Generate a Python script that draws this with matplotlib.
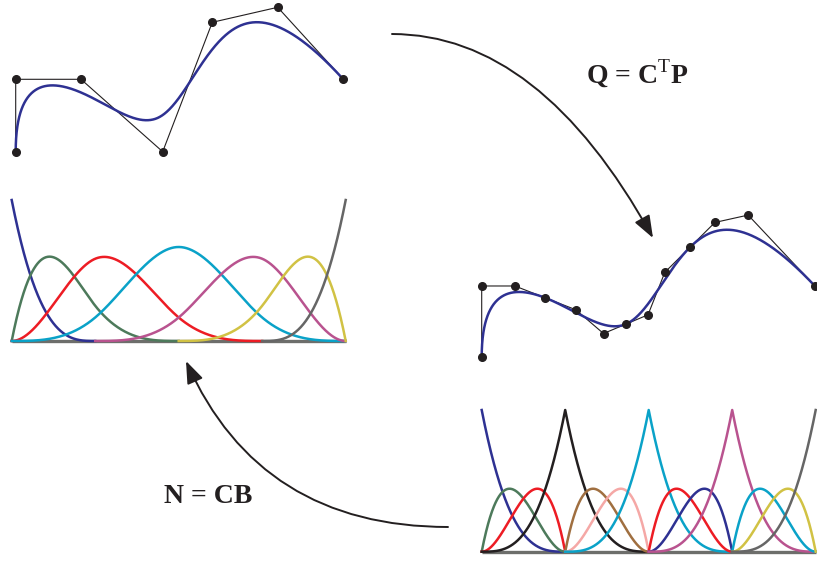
import numpy as np
import matplotlib
matplotlib.use("Agg")
import matplotlib.pyplot as plt
from matplotlib.patches import FancyArrowPatch

plt.rcParams['mathtext.fontset'] = 'custom'
plt.rcParams['mathtext.rm'] = 'Liberation Serif'
plt.rcParams['mathtext.bf'] = 'Liberation Serif:bold'

# ---------------- data ----------------
degree = 3
knots = [0, 0, 0, 0, 0.25, 0.5, 0.75, 1, 1, 1, 1]
ctrl_x = [0.0, 0.0, 65.3, 147.0, 196.6, 262.0, 327.6]
ctrl_y = [0.0, 72.4, 72.4, 0.0, 129.4, 144.4, 72.4]
insert_knots = [0.25, 0.25, 0.5, 0.5, 0.75, 0.75]

basis_colors = ['#2e3192', '#4d7a5b', '#ed1c24', '#0aa2c8', '#b9538f', '#d1c244', '#666666']
bezier_colors = ['#2e3192', '#4d7a5b', '#ed1c24', '#231f20', '#a06f40', '#f5a8a6', '#0aa2c8',
                 '#ed1c24', '#2e3192', '#b9538f', '#0aa2c8', '#d1c244', '#666666']
label_top = r'Q = $\mathbf{C}^{\mathrm{T}}\mathbf{P}$'
label_bottom = 'N = CB'

curve_color = '#2e3192'
ink = '#231f20'
base_gray = '#6d6e6b'

# ---------------- B-spline helpers ----------------
def basis(kn, p, u):
    kn = np.asarray(kn, float)
    n = len(kn) - p - 1
    m = len(kn) - 1
    N = np.zeros((m, len(u)))
    last = max(i for i in range(m) if kn[i] < kn[i + 1])
    for i in range(m):
        if kn[i] < kn[i + 1]:
            N[i] = (kn[i] <= u) & (u < kn[i + 1])
    N[last, u >= kn[-1]] = 1.0
    for d in range(1, p + 1):
        Nn = np.zeros((m - d, len(u)))
        for i in range(m - d):
            a = 0.0
            if kn[i + d] > kn[i]:
                a = (u - kn[i]) / (kn[i + d] - kn[i]) * N[i]
            b = 0.0
            if kn[i + d + 1] > kn[i + 1]:
                b = (kn[i + d + 1] - u) / (kn[i + d + 1] - kn[i + 1]) * N[i + 1]
            Nn[i] = a + b
        N = Nn
    return N[:n]

def insert(kn, P, u, p):
    kn = list(kn)
    k = max(i for i in range(len(kn) - 1) if kn[i] <= u < kn[i + 1])
    Q = []
    for i in range(len(P) + 1):
        if i <= k - p:
            Q.append(P[i])
        elif i >= k + 1:
            Q.append(P[i - 1])
        else:
            a = (u - kn[i]) / (kn[i + p] - kn[i])
            Q.append((1 - a) * P[i - 1] + a * P[i])
    kn.insert(k + 1, u)
    return kn, Q

P = [np.array([x, y]) for x, y in zip(ctrl_x, ctrl_y)]
kn2, Q = list(knots), list(P)
for uu in insert_knots:
    kn2, Q = insert(kn2, Q, uu, degree)
Q = np.array(Q)
Parr = np.array(P)

u = np.linspace(0, 1, 1201)
N1 = basis(knots, degree, u)
N2 = basis(kn2, degree, u)
curve = N1.T @ Parr

# ---------------- figure ----------------
W, H = 817, 561
fig = plt.figure(figsize=(W / 100, H / 100), dpi=100)

def panel(l, t, w, h, ox, oy, sx, sy):
    ax = fig.add_axes([l / W, 1 - (t + h) / H, w / W, h / H])
    ax.set_xlim((l - ox) / sx, (l + w - ox) / sx)
    ax.set_ylim((oy - (t + h)) / sy, (oy - t) / sy)
    ax.axis('off')
    return ax

# overlay for arrows and labels
ov = fig.add_axes([0, 0, 1, 1])
ov.set_xlim(0, W)
ov.set_ylim(H, 0)
ov.axis('off')

# top-left curve
ax1 = panel(0, 0, 360, 175, 15.7, 151.7, 1.0, 1.0)
ax1.plot(Parr[:, 0], Parr[:, 1], color=ink, lw=0.8, clip_on=False)
ax1.plot(curve[:, 0], curve[:, 1], color=curve_color, lw=1.8, clip_on=False)
ax1.plot(Parr[:, 0], Parr[:, 1], 'o', color=ink, ms=5.5, clip_on=False)

# right curve
ax2 = panel(460, 195, 357, 180, 481.7, 357.3, 1.017, 0.985)
ax2.plot(Q[:, 0], Q[:, 1], color=ink, lw=0.8, clip_on=False)
ax2.plot(curve[:, 0], curve[:, 1], color=curve_color, lw=1.8, clip_on=False)
ax2.plot(Q[:, 0], Q[:, 1], 'o', color=ink, ms=5.5, clip_on=False)

def draw_basis(ax, N, kn, colors):
    ax.plot([0, 1], [0, 0], color=base_gray, lw=2.4, solid_capstyle='butt', clip_on=False)
    for i in range(N.shape[0]):
        m = (u >= kn[i]) & (u <= kn[i + degree + 1])
        ax.plot(u[m], N[i][m], color=colors[i], lw=1.8, clip_on=False)

ax3 = panel(0, 190, 360, 160, 11.7, 341.0, 334.0, 141.0)
draw_basis(ax3, N1, knots, basis_colors)

ax4 = panel(460, 400, 357, 161, 481.7, 551.7, 334.0, 141.7)
draw_basis(ax4, N2, kn2, bezier_colors)

# arrows
arr_kw = dict(arrowstyle='-|>,head_length=0.8,head_width=0.3', mutation_scale=17,
              color=ink, lw=1.4, shrinkA=0, shrinkB=0)
ov.add_patch(FancyArrowPatch((392, 34), (653, 238),
                             connectionstyle='angle3,angleA=0,angleB=-61', **arr_kw))
ov.add_patch(FancyArrowPatch((448, 527), (186, 361),
                             connectionstyle='angle3,angleA=0,angleB=114', **arr_kw))

# labels
ov.text(637, 83, label_top, fontsize=20, fontweight='bold', family='Liberation Serif',
        ha='center', va='baseline', color=ink)
ov.text(208, 503, label_bottom, fontsize=20, fontweight='bold', family='Liberation Serif',
        ha='center', va='baseline', color=ink)

fig.savefig('out.png', dpi=100)
